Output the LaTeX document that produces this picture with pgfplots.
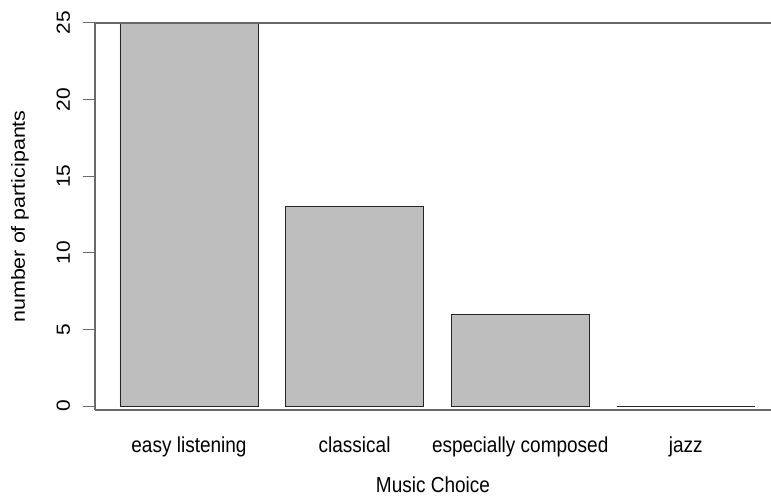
\documentclass[border=0pt]{standalone}
\usepackage{fontspec}
\setmainfont{Liberation Sans}
\usepackage{pgfplots}
\pgfplotsset{compat=1.18}
\definecolor{barfill}{RGB}{190,190,190}
\definecolor{axisgray}{RGB}{105,105,105}
\begin{document}
\begin{tikzpicture}
\begin{axis}[
  scale only axis, width=676pt, height=387pt,
  xmin=0.019, xmax=4.917, ymin=-0.26, ymax=25,
  axis line style={draw=none},
  clip=false,
  /pgf/number format/assume math mode=true,
  tick align=outside, major tick length=12pt,
  xtick={0.7,1.9,3.1,4.3},
  xticklabels={\scalebox{1}[1.14]{easy listening}, \scalebox{1}[1.14]{classical}, \scalebox{1}[1.14]{especially composed}, \scalebox{1}[1.14]{jazz}},
  xtick style={draw=none},
  xtick pos=bottom, ytick pos=left,
  ytick={0,5,10,15,20,25},
  yticklabel={\scalebox{1.1}[1]{\pgfmathprintnumber{\tick}}},
  ytick style={axisgray, line width=1pt},
  xticklabel style={font=\fontsize{19}{22}\selectfont, anchor=base, inner sep=0pt, yshift=-30pt},
  yticklabel style={font=\fontsize{19}{22}\selectfont, xshift=-13pt, rotate=90, anchor=base, inner sep=0pt},
  xlabel={\scalebox{1}[1.14]{Music Choice}},
  ylabel={\scalebox{1.13}[1]{number of participants}},
  xlabel style={font=\fontsize{19}{22}\selectfont, at={(axis description cs:0.5,-0.214)}, anchor=base, inner sep=0pt},
  ylabel style={font=\fontsize{19}{22}\selectfont, at={(axis description cs:-0.1036,0.5)}, anchor=base, inner sep=0pt},
]
\addplot[ybar, bar width=1, fill=barfill, draw=black!85, line width=0.8pt]
  coordinates {(0.7,25) (1.9,13) (3.1,6) (4.3,0)};
\draw[axisgray, line width=1.2pt] (rel axis cs:0,0) -- (rel axis cs:1,0);
\draw[axisgray, line width=1.2pt] (rel axis cs:0,0) -- (rel axis cs:0,1);
\draw[axisgray, line width=1.2pt] (rel axis cs:0,1) -- (rel axis cs:1,1);
\end{axis}
\pgfresetboundingbox
\path ([shift={(-95pt,-87pt)}]current axis.south west) rectangle ([shift={(0pt,23pt)}]current axis.north east);
\end{tikzpicture}
\end{document}
